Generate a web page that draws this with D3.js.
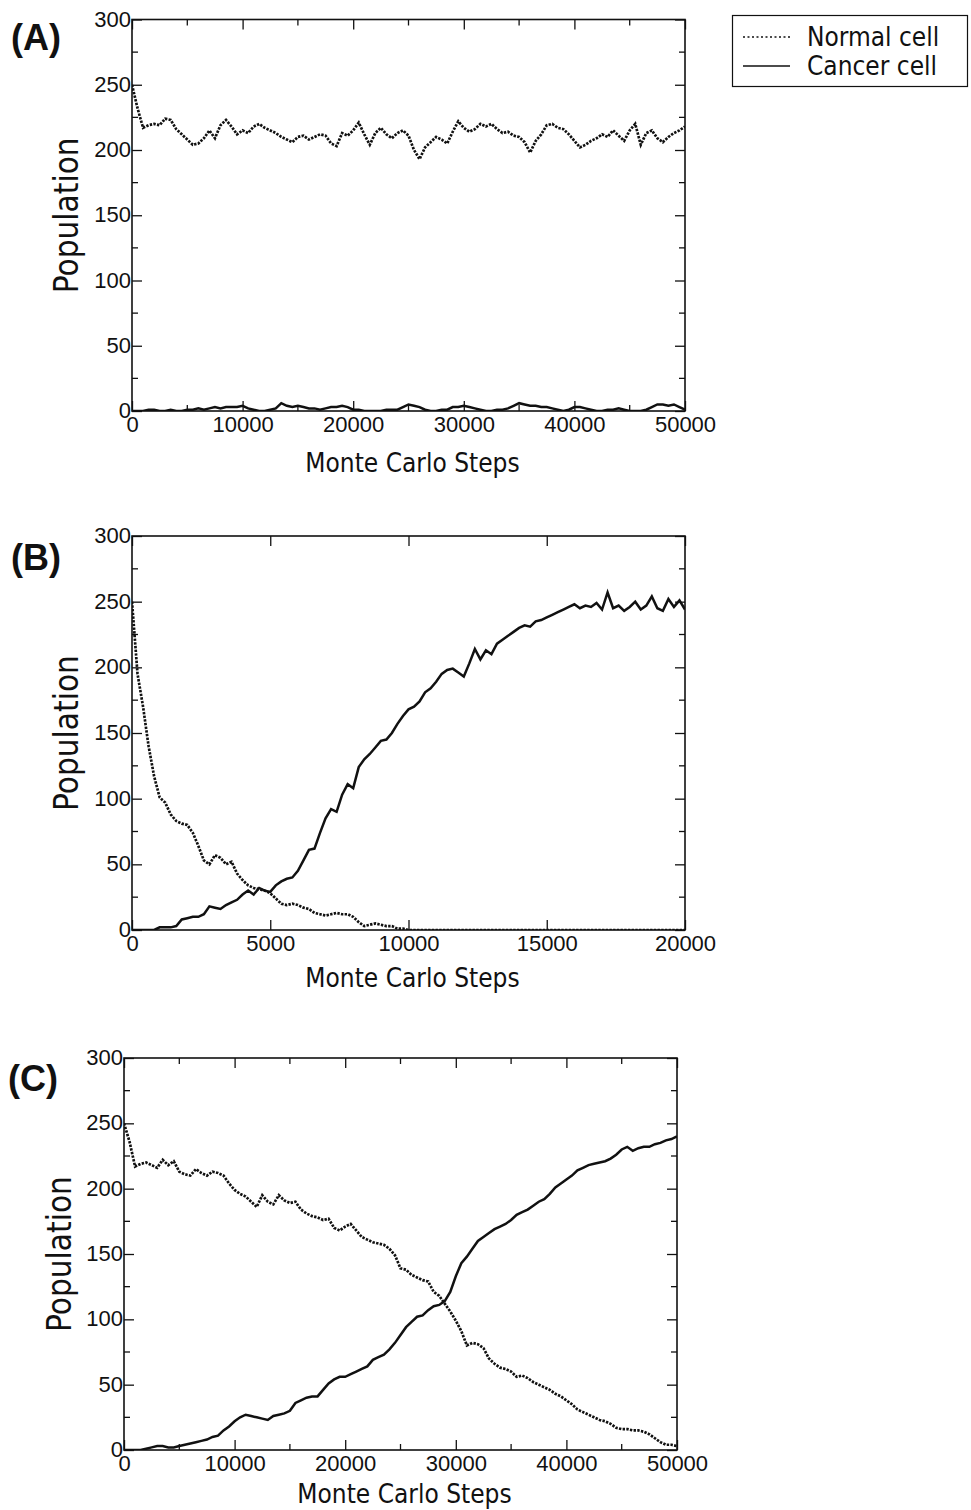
<!DOCTYPE html>
<html><head><meta charset="utf-8">
<script src="https://cdn.jsdelivr.net/npm/d3@7"></script>
<style>body{margin:0;background:#fff}svg{display:block}</style>
</head><body>
<script>
// ---------- DATA ----------
const seriesNames = ["Normal cell", "Cancer cell"];
const yTicks = [0, 50, 100, 150, 200, 250, 300];
const xTicksA = [0, 10000, 20000, 30000, 40000, 50000];
const xTicksB = [0, 5000, 10000, 15000, 20000];
const xTicksC = [0, 10000, 20000, 30000, 40000, 50000];
const stepA = 500, stepB = 200, stepC = 500; // sampling interval (MC steps)

const normalA = [250,232,217,219,220,219,224,223,216,212,208,204,205,209,215,209,219,223,218,212,
215,213,218,220,217,215,213,210,208,206,210,211,208,210,212,211,205,203,213,211,
215,221,212,204,213,217,212,209,213,215,211,200,193,202,206,210,208,205,214,222,
217,214,216,220,218,220,216,213,214,211,210,206,198,207,212,219,220,217,216,212,
207,202,204,207,209,212,210,215,211,207,215,220,204,213,215,209,206,210,213,215,218];
const cancerA = [0,0,0,1,1,0,0,1,0,0,1,1,2,1,2,3,2,3,3,3,
4,2,1,0,0,1,2,6,4,3,4,3,2,2,1,2,3,3,4,3,
1,1,0,0,0,0,1,1,1,3,5,4,3,1,0,0,1,1,3,3,
4,3,2,1,0,0,1,1,2,4,6,5,4,4,3,3,2,1,0,1,
3,3,2,1,0,0,1,1,2,1,0,0,0,1,3,5,5,4,5,3,1];

const normalB = [250,195,170,140,117,101,97,88,83,81,80,74,64,53,50,57,55,50,52,43,
38,34,32,31,30,28,24,20,19,20,19,17,16,13,12,11,12,13,12,12,
10,6,3,4,5,4,3,3,1,1,0,0,0,0,0,0,0,0,0,0,
0,0,0,0,0,0,0,0,0,0,0,0,0,0,0,0,0,0,0,0,
0,0,0,0,0,0,0,0,0,0,0,0,0,0,0,0,0,0,0,0,0];
const cancerB = [0,0,0,0,0,2,2,2,3,8,9,10,10,12,18,17,16,19,21,23,
27,30,27,32,30,29,34,37,39,40,45,53,61,62,74,85,92,90,103,111,
108,124,130,134,139,144,145,150,157,163,168,170,174,181,184,189,195,198,199,196,
193,203,214,206,213,210,218,221,224,227,230,232,231,235,236,238,240,242,244,246,
248,245,247,246,249,244,257,245,247,243,246,250,244,247,254,245,243,252,246,251,244];

const normalC = [250,236,217,219,220,218,216,222,218,221,213,211,210,215,212,210,213,212,210,204,
199,196,194,190,186,195,190,188,195,191,189,190,184,181,179,178,176,177,170,168,
171,173,168,163,161,159,158,157,154,149,139,138,134,132,130,129,121,118,112,106,
99,91,80,82,81,78,70,66,63,62,60,56,57,55,52,50,48,46,43,41,
38,35,31,29,27,25,23,22,20,17,16,16,15,15,14,12,9,6,4,4,3];
const cancerC = [0,0,0,0,1,2,3,3,2,2,3,4,5,6,7,8,10,11,15,18,
22,25,27,26,25,24,23,26,27,28,30,36,38,40,41,41,46,51,54,56,
56,58,60,62,64,69,71,73,77,82,88,94,98,102,103,107,110,111,114,121,
133,143,148,154,160,163,166,169,171,173,176,180,182,184,187,190,192,196,201,204,
207,210,214,216,218,219,220,221,223,226,230,232,229,231,232,232,234,235,237,238,240];

// ---------- DRAW ----------
const W = 971, H = 1510;
const svg = d3.select("body").append("svg").attr("width", W).attr("height", H);
const tickFont = "'Liberation Sans', Arial, sans-serif";
const labelFont = "'DejaVu Sans Condensed', 'DejaVu Sans', sans-serif";
const ink = "#111";

function panel(opt) {
  const g = svg.append("g");
  const x = d3.scaleLinear().domain(opt.xDomain).range([opt.left, opt.left + opt.width]);
  const y = d3.scaleLinear().domain([0, 300]).range([opt.bottom, opt.top]);

  const line = d3.line().x(d => x(d[0])).y(d => y(d[1]));
  const normalPts = opt.normal.map((v, i) => [i * opt.step, v]);
  const cancerPts = opt.cancer.map((v, i) => [i * opt.step, v]);

  const clipId = "clip" + opt.id;
  svg.append("clipPath").attr("id", clipId).append("rect")
    .attr("x", opt.left).attr("y", opt.top - 2).attr("width", opt.width).attr("height", opt.bottom - opt.top + 2);

  const lines = g.append("g").attr("clip-path", `url(#${clipId})`);
  lines.append("path").datum(normalPts).attr("d", line)
    .attr("fill", "none").attr("stroke", ink).attr("stroke-width", 2.7)
    .attr("stroke-dasharray", "2.4,1.3");
  lines.append("path").datum(cancerPts).attr("d", line)
    .attr("fill", "none").attr("stroke", ink).attr("stroke-width", 2.5);

  // axes with inward ticks on all sides
  const minorY = d3.range(25, 300, 50);
  const axes = [
    d3.axisBottom(x).tickValues(opt.xTicks).tickSize(-10).tickFormat(d3.format("d")),
    d3.axisTop(x).tickValues(opt.xTicks).tickSize(-10).tickFormat(""),
    d3.axisLeft(y).tickValues(yTicks).tickSize(-10).tickFormat(d3.format("d")),
    d3.axisRight(y).tickValues(yTicks).tickSize(-10).tickFormat("")
  ];
  const pos = [
    `translate(0,${opt.bottom})`, `translate(0,${opt.top})`,
    `translate(${opt.left},0)`, `translate(${opt.left + opt.width},0)`
  ];
  axes.forEach((a, i) => {
    const ag = g.append("g").attr("transform", pos[i]).call(a.tickPadding(0));
    ag.select(".domain").remove();
    ag.selectAll(".tick line").attr("stroke", ink).attr("stroke-width", 1.3);
    ag.selectAll("text").attr("font-family", tickFont).attr("font-size", 22).attr("fill", ink);
    if (i === 0) ag.selectAll("text").attr("y", 5).attr("dy", "0.71em");
    if (i === 2) ag.selectAll("text").attr("x", -1).attr("dy", "0.3em");
  });
  // minor ticks
  const minorX = opt.minorX || [];
  minorX.forEach(v => {
    g.append("line").attr("x1", x(v)).attr("x2", x(v)).attr("y1", opt.bottom).attr("y2", opt.bottom - 6).attr("stroke", ink).attr("stroke-width", 1.3);
    g.append("line").attr("x1", x(v)).attr("x2", x(v)).attr("y1", opt.top).attr("y2", opt.top + 6).attr("stroke", ink).attr("stroke-width", 1.3);
  });
  minorY.forEach(v => {
    g.append("line").attr("x1", opt.left).attr("x2", opt.left + 6).attr("y1", y(v)).attr("y2", y(v)).attr("stroke", ink).attr("stroke-width", 1.3);
    g.append("line").attr("x1", opt.left + opt.width).attr("x2", opt.left + opt.width - 6).attr("y1", y(v)).attr("y2", y(v)).attr("stroke", ink).attr("stroke-width", 1.3);
  });
  // frame
  g.append("rect").attr("x", opt.left).attr("y", opt.top).attr("width", opt.width).attr("height", opt.bottom - opt.top)
    .attr("fill", "none").attr("stroke", ink).attr("stroke-width", 1.6);

  // axis titles
  g.append("text").attr("x", opt.left + opt.width / 2 + 4).attr("y", opt.xTitleY)
    .attr("text-anchor", "middle").attr("font-family", labelFont).attr("font-size", 26).attr("fill", ink)
    .text("Monte Carlo Steps");
  g.append("text").attr("transform", `translate(${opt.yTitleX},${(opt.top + opt.bottom) / 2}) rotate(-90)`)
    .attr("text-anchor", "middle").attr("font-family", labelFont).attr("font-size", 33).attr("fill", ink)
    .text("Population");
  g.append("text").attr("x", opt.tagX).attr("y", opt.tagY)
    .attr("font-family", tickFont).attr("font-weight", "bold").attr("font-size", 36).attr("fill", ink)
    .text(opt.tag);
}

panel({id: "A", tag: "(A)", tagX: 11, tagY: 50, left: 132, width: 553, top: 19.5, bottom: 411,
  xDomain: [0, 50000], xTicks: xTicksA, minorX: [5000, 15000, 25000, 35000, 45000],
  step: stepA, normal: normalA, cancer: cancerA, yTitleX: 78, xTitleY: 472});
panel({id: "B", tag: "(B)", tagX: 11, tagY: 570, left: 132, width: 553, top: 536, bottom: 930,
  xDomain: [0, 20000], xTicks: xTicksB, minorX: [],
  step: stepB, normal: normalB, cancer: cancerB, yTitleX: 78, xTitleY: 987});
panel({id: "C", tag: "(C)", tagX: 8, tagY: 1091, left: 124, width: 553, top: 1058, bottom: 1450,
  xDomain: [0, 50000], xTicks: xTicksC, minorX: [5000, 15000, 25000, 35000, 45000],
  step: stepC, normal: normalC, cancer: cancerC, yTitleX: 71, xTitleY: 1503});

// legend
const lg = svg.append("g");
lg.append("rect").attr("x", 732.5).attr("y", 15.5).attr("width", 235).attr("height", 71)
  .attr("fill", "#fff").attr("stroke", ink).attr("stroke-width", 1.2);
const dashes = ["2,2.5", null];
seriesNames.forEach((name, i) => {
  const yy = 37 + i * 29;
  const l = lg.append("line").attr("x1", 743).attr("x2", 790).attr("y1", yy).attr("y2", yy)
    .attr("stroke", ink).attr("stroke-width", 1.6);
  if (dashes[i]) l.attr("stroke-dasharray", dashes[i]);
  lg.append("text").attr("x", 807).attr("y", yy + 9).attr("font-family", labelFont)
    .attr("font-size", 26).attr("fill", ink).text(name);
});
</script>
</body></html>
